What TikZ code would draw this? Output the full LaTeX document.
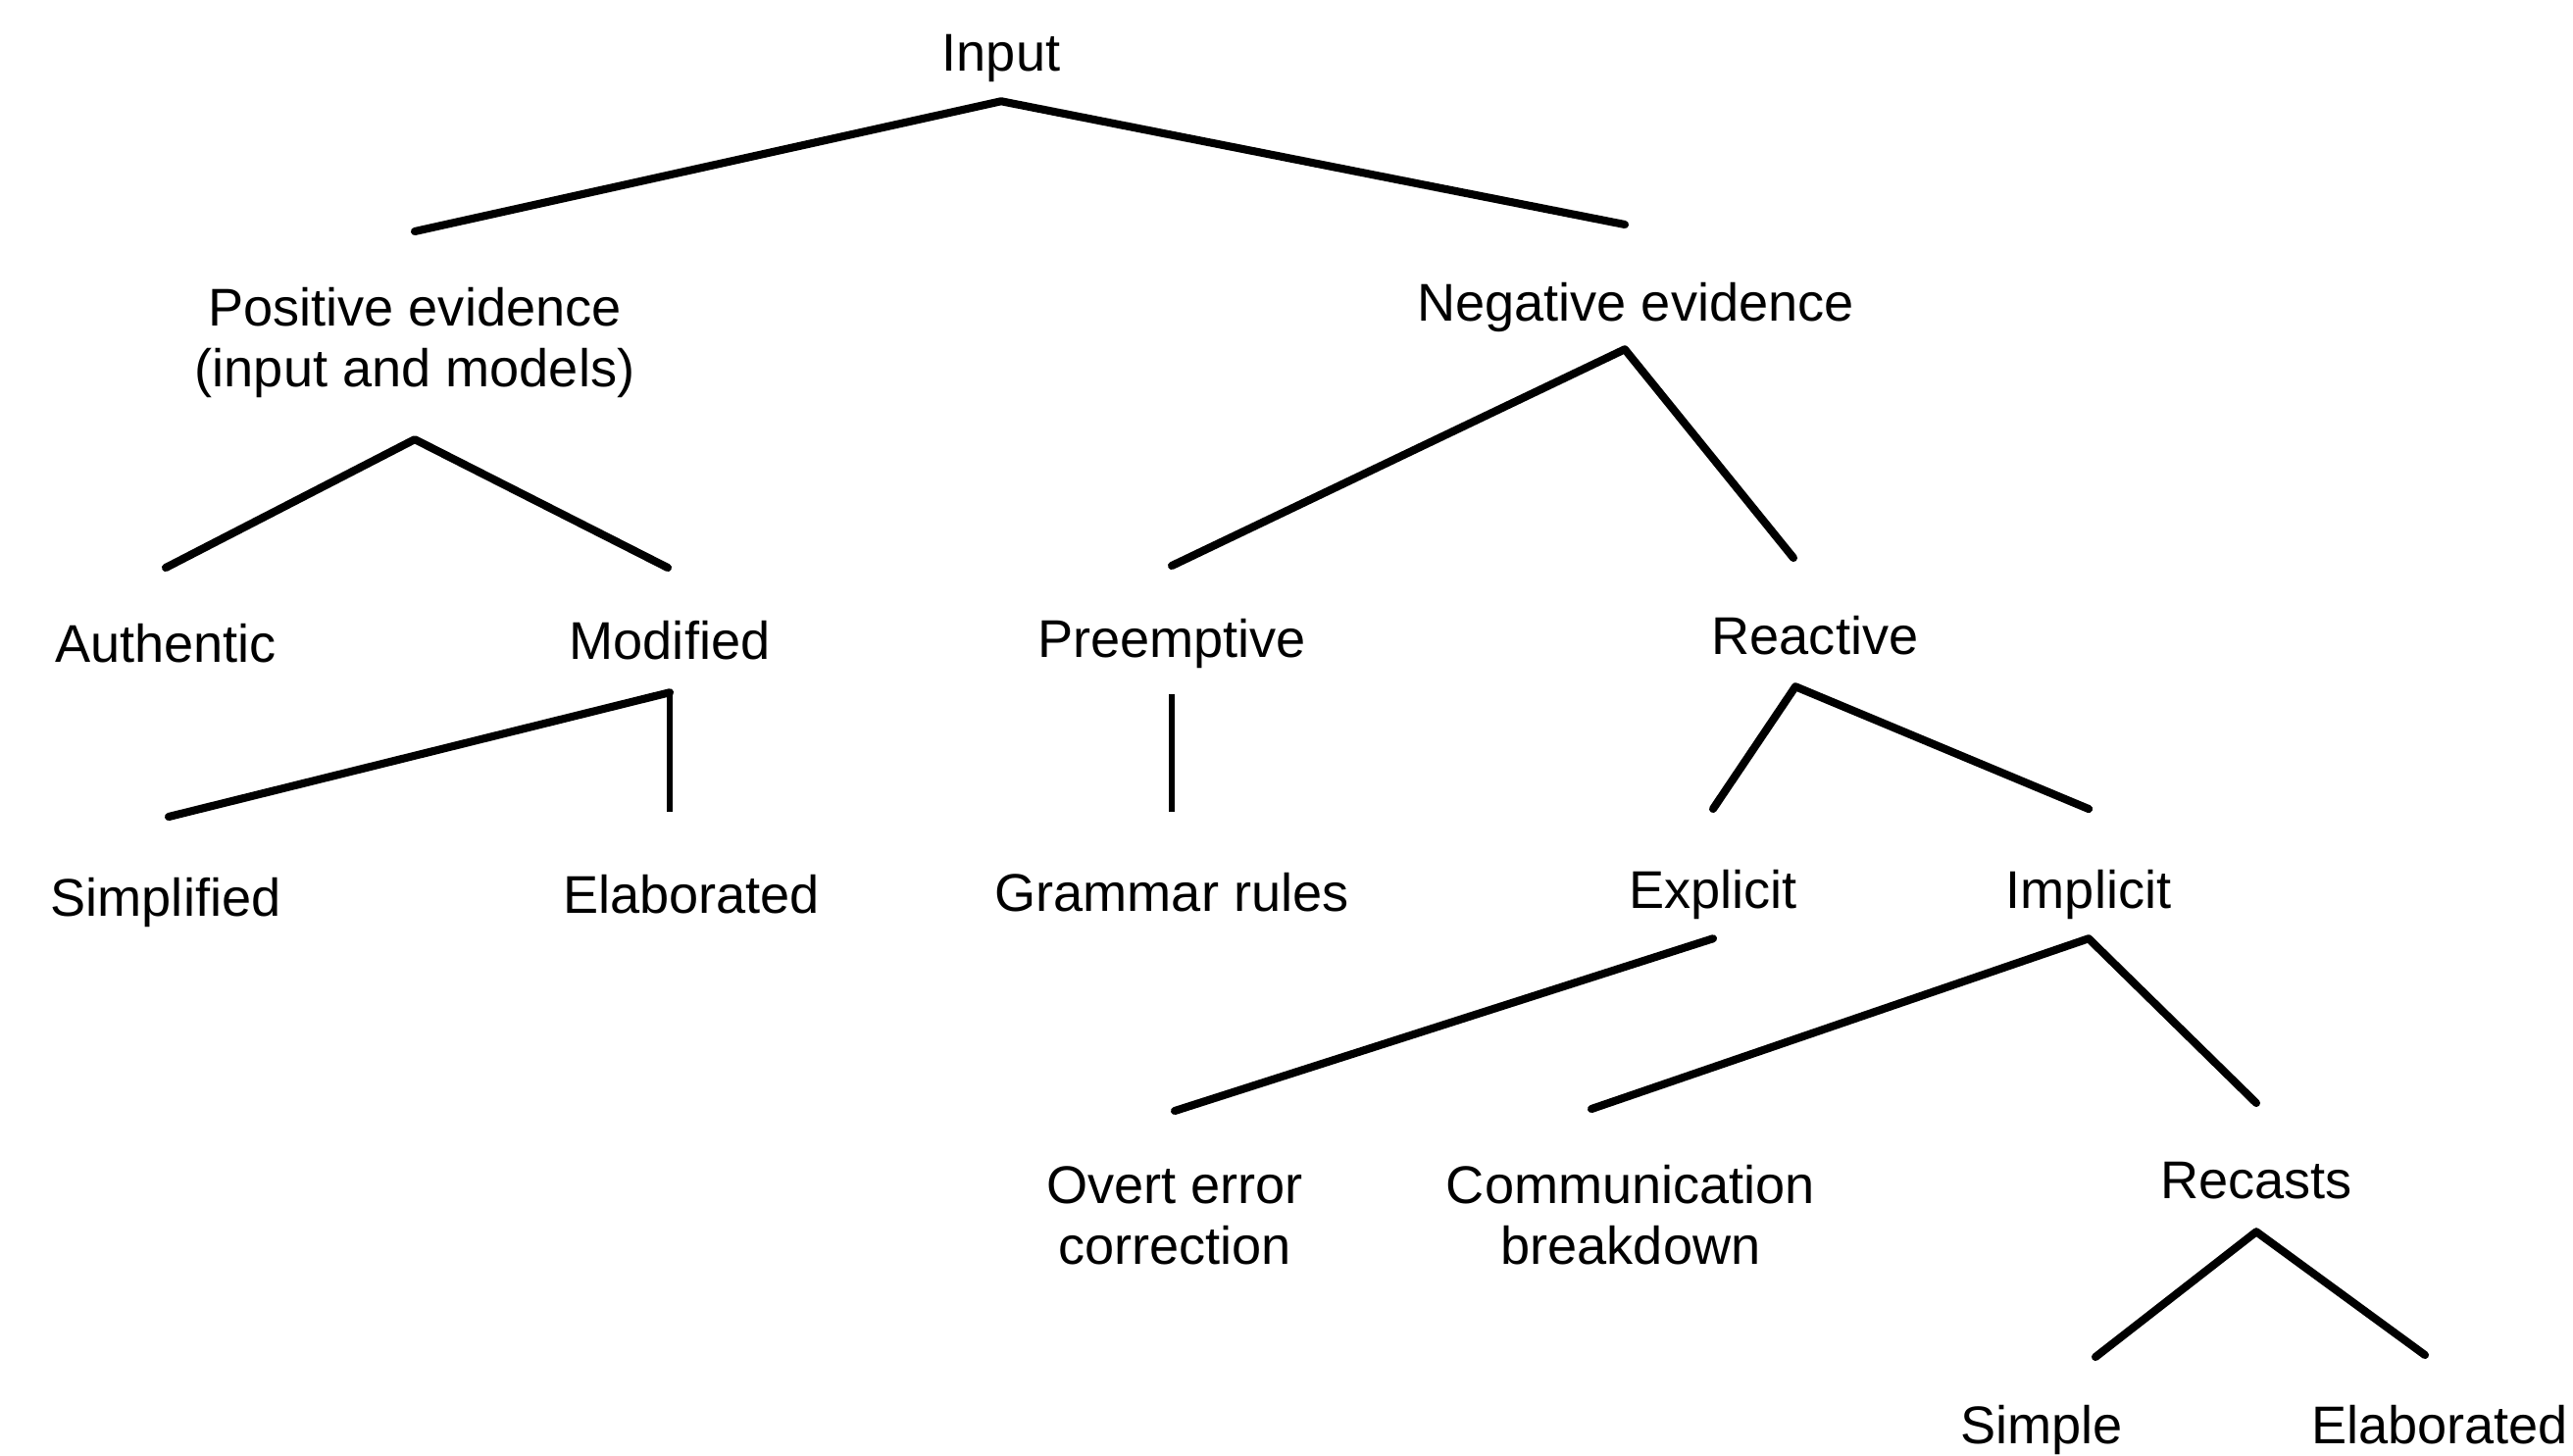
\documentclass[tikz,border=0pt]{standalone}
\usepackage{fontspec}
\setmainfont{Liberation Sans}
\usetikzlibrary{calc}

\begin{document}
\begin{tikzpicture}[
  x=0.01cm, y=-0.01cm,
  font=\fontsize{15.4}{17.6}\selectfont,
  lbl/.style={anchor=north,inner sep=0pt,outer sep=0pt,text depth=0pt,align=center},
  branch/.style={line width=2.3pt,line join=round,line cap=round},
  stem/.style={line width=1.6pt}
]
\useasboundingbox (0,0) rectangle (2624,1484);

% labels, placed by the top of their capitals
\node[lbl] (inp) at (1021,35) {Input};
\node[lbl] (pos) at (423,293) {Positive evidence\\(input and models)};
\node[lbl] (neg) at (1668,288) {Negative evidence};
\node[lbl] (aut) at (169,636) {Authentic};
\node[lbl] (mod) at (683,633) {Modified};
\node[lbl] (pre) at (1195,631) {Preemptive};
\node[lbl] (rea) at (1851,628) {Reactive};
\node[lbl] (sim) at (169,895) {Simplified};
\node[lbl] (ela) at (705,892) {Elaborated};
\node[lbl] (gra) at (1195,890) {Grammar rules};
\node[lbl] (exp) at (1747,887) {Explicit};
\node[lbl] (imp) at (2130,887) {Implicit};
\node[lbl] (ove) at (1198,1190) {Overt error\\correction};
\node[lbl] (com) at (1663,1188) {Communication\\breakdown};
\node[lbl] (rec) at (2301,1185) {Recasts};
\node[lbl] (smp) at (2082,1433) {Simple};
\node[lbl] (el2) at (2488,1433) {Elaborated};

% branches
\draw[branch] ($(pos.north)+(0,-57)$) -- ($(inp.south)+(0,31)$) -- ($(neg.north)+(-11,-59)$);
\draw[branch] ($(aut.north)+(0,-57)$) -- ($(pos.south)+(0,54)$) -- ($(mod.north)+(-2,-54)$);
\draw[branch] ($(pre.north)+(0,-54)$) -- ($(neg.south)+(-11,29)$) -- ($(rea.north)+(-22,-59)$);
\draw[branch] ($(sim.north)+(3,-62)$) -- ($(mod.south)+(0,34)$);
\draw[stem] ($(mod.south)+(0,34)$) -- ($(mod.south |- ela.north)+(0,-64)$);
\draw[stem] ($(pre.south)+(0,38)$) -- ($(gra.north)+(0,-62)$);
\draw[branch] ($(exp.north)+(0,-62)$) -- ($(rea.south)+(-20,33)$) -- ($(imp.north)+(0,-62)$);
\draw[branch] ($(exp.south)+(0,31)$) -- ($(ove.north)+(0,-57)$);
\draw[branch] ($(com.north)+(-40,-57)$) -- ($(imp.south)+(0,31)$) -- ($(rec.north)+(0,-60)$);
\draw[branch] ($(smp.north)+(55,-49)$) -- ($(rec.south)+(0,34)$) -- ($(el2.north)+(-15,-51)$);
\end{tikzpicture}
\end{document}
